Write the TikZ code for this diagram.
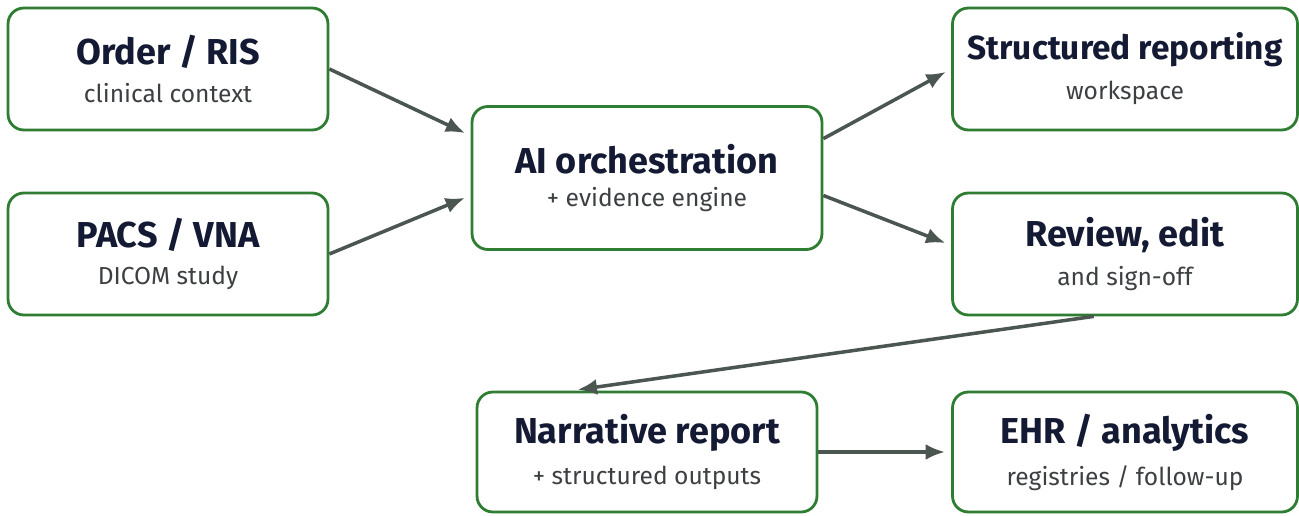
\documentclass[tikz,border=0pt]{standalone}
\usepackage{fontspec}
\setmainfont{Fira Sans}
\usetikzlibrary{positioning}
\usetikzlibrary{calc}
\usetikzlibrary{arrows.meta}

\definecolor{boxgreen}{HTML}{2E7D32}
\definecolor{titleblue}{HTML}{141A33}
\definecolor{subgray}{HTML}{3D4043}
\definecolor{arrowgray}{HTML}{4B5651}

\newcommand{\boxlabel}[3][20.5]{{\fontsize{#1}{22}\selectfont\bfseries\color{titleblue}#2}\\[7pt]{\fontsize{14}{16}\selectfont\color{subgray}#3}}

\begin{document}
\begin{tikzpicture}[x=0.02cm,y=-0.02cm,
    box/.style={draw=boxgreen, line width=1.6pt, rounded corners=9pt, fill=white,
      minimum width=6.4cm, minimum height=2.44cm, align=center, inner sep=0pt},
    flow/.style={-{Latex[length=11pt,width=9pt]}, draw=arrowgray, fill=arrowgray, line width=2pt, shorten >=3.5pt}]
        \useasboundingbox (0,0) rectangle (1299,516);

        \node[box] (order) at (168,69) {\boxlabel{Order / RIS}{clinical context}};
        \node[box] (pacs) at (168,254) {\boxlabel{PACS / VNA}{DICOM study}};
        \node[box, minimum width=7cm, minimum height=2.86cm] (ai) at (647,178) {\boxlabel{AI orchestration}{+ evidence engine}};
        \node[box, minimum width=6.9cm] (struct) at (1125,69) {\boxlabel[19]{Structured reporting}{workspace}};
        \node[box, minimum width=6.9cm] (review) at (1125,254) {\boxlabel{Review, edit}{and sign-off}};
        \node[box, minimum width=6.8cm, minimum height=2.4cm] (narr) at (647,452) {\boxlabel{Narrative report}{+ structured outputs}};
        \node[box, minimum width=6.9cm, minimum height=2.4cm] (ehr) at (1125,452) {\boxlabel{EHR / analytics}{registries / follow-up}};

        \draw[flow] (order.east) -- ($(ai.north west)!0.21!(ai.south west)$);
        \draw[flow] (pacs.east) -- ($(ai.north west)!0.62!(ai.south west)$);
        \draw[flow] ($(ai.north east)!0.23!(ai.south east)$) -- (struct.west);
        \draw[flow] ($(ai.north east)!0.62!(ai.south east)$) -- ($(review.north west)!0.43!(review.south west)$);
        \draw[flow] ($(review.south west)!0.41!(review.south east)$) -- ($(narr.north west)!0.28!(narr.north east)$);
        \draw[flow] (narr.east) -- (ehr.west);
\end{tikzpicture}
\end{document}
